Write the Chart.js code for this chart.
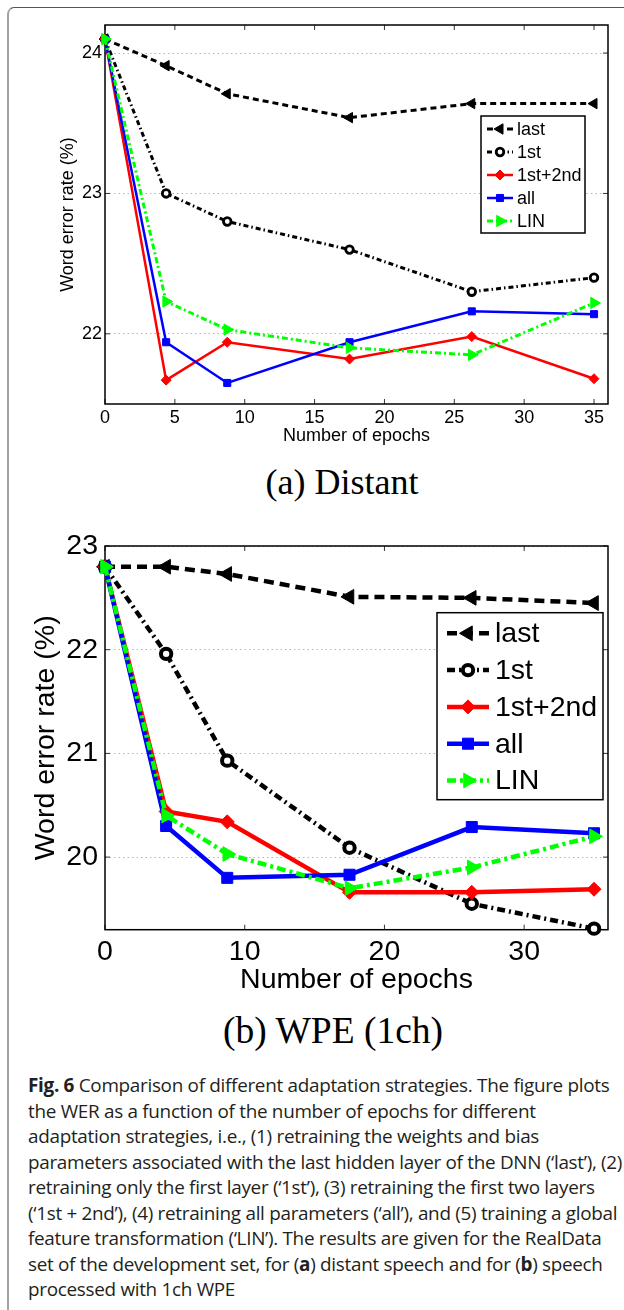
<!DOCTYPE html>
<html>
<head>
<meta charset="utf-8">
<script src="https://cdn.jsdelivr.net/npm/chart.js@4.4.0/dist/chart.umd.min.js"></script>
<style>
  html, body { margin: 0; padding: 0; background: #fff; }
  body { width: 624px; height: 1310px; position: relative; overflow: hidden; }
  .card { position: absolute; left: 7px; top: 7px; width: 1000px; height: 2000px;
          border-top: 1px solid #555; border-left: 2px solid #a3a3a3; border-top-left-radius: 7px; }
  canvas { position: absolute; left: 0; }
  #chartA { top: 0; }
  #chartB { top: 500px; }
  .sub { position: absolute; font-family: 'Liberation Serif', serif; font-size: 36px; color: #000;
         white-space: nowrap; transform: translate(-50%, -50%); }
  .caption { position: absolute; left: 28px; top: 1073px; font-family: 'Open Sans', sans-serif;
             font-size: 18.9px; line-height: 25.5px; color: #231f20; letter-spacing: -0.3px; }
  .caption div { white-space: nowrap; }
</style>
</head>
<body>
<div class="card"></div>
<canvas id="chartA" width="624" height="450"></canvas>
<div class="sub" style="left:342px; top:482px;">(a) Distant</div>
<canvas id="chartB" width="624" height="500"></canvas>
<div class="sub" style="left:333px; top:1030px; font-size:37.5px;">(b) WPE (1ch)</div>
<div class="caption">
  <div><b>Fig. 6</b> Comparison of different adaptation strategies. The figure plots</div>
  <div>the WER as a function of the number of epochs for different</div>
  <div>adaptation strategies, i.e., (1) retraining the weights and bias</div>
  <div>parameters associated with the last hidden layer of the DNN (‘last’), (2)</div>
  <div>retraining only the first layer (‘1st’), (3) retraining the first two layers</div>
  <div>(‘1st + 2nd’), (4) retraining all parameters (‘all’), and (5) training a global</div>
  <div>feature transformation (‘LIN’). The results are given for the RealData</div>
  <div>set of the development set, for (<b>a</b>) distant speech and for (<b>b</b>) speech</div>
  <div>processed with 1ch WPE</div>
</div>

<script>
// epochs on the x axis (same for both panels)
const epochs = [0, 4.375, 8.75, 17.5, 26.25, 35];
const seriesNames = ['last', '1st', '1st+2nd', 'all', 'LIN'];

// (a) Distant - word error rate (%)
const distLast   = [24.10, 23.91, 23.71, 23.54, 23.64, 23.64];
const dist1st    = [24.10, 23.00, 22.80, 22.60, 22.30, 22.40];
const dist1st2nd = [24.10, 21.67, 21.94, 21.82, 21.98, 21.68];
const distAll    = [24.10, 21.94, 21.65, 21.94, 22.16, 22.14];
const distLin    = [24.10, 22.23, 22.03, 21.90, 21.85, 22.22];

// (b) WPE (1ch) - word error rate (%)
const wpeLast   = [22.80, 22.80, 22.73, 22.51, 22.50, 22.45];
const wpe1st    = [22.80, 21.96, 20.93, 20.09, 19.55, 19.31];
const wpe1st2nd = [22.80, 20.44, 20.34, 19.66, 19.66, 19.69];
const wpeAll    = [22.80, 20.30, 19.80, 19.83, 20.29, 20.23];
const wpeLin    = [22.80, 20.40, 20.03, 19.70, 19.90, 20.20];

// tick labels
const distTicksX = [0, 5, 10, 15, 20, 25, 30, 35];
const distTicksY = [22, 23, 24];
const wpeTicksX = [0, 10, 20, 30];
const wpeTicksY = [20, 21, 22, 23];

// marker / line look per series
const colors = ['#000000', '#000000', '#ff0000', '#0000ff', '#00ff00'];
const pointStyles = ['triangle', 'circle', 'rectRot', 'rect', 'triangle'];
const pointRotations = [-90, 0, 0, 0, 90];
const pointFills = ['#000000', '#ffffff', '#ff0000', '#0000ff', '#00ff00'];

Chart.defaults.font.family = "'Liberation Sans', Arial, sans-serif";
Chart.defaults.color = '#000';

function drawMarker(ctx, style, x, y, r, rot, fill, stroke, bw) {
    ctx.save();
    ctx.translate(x, y);
    ctx.rotate(rot * Math.PI / 180);
    ctx.beginPath();
    if (style === 'circle') {
        ctx.arc(0, 0, r, 0, Math.PI * 2);
    } else if (style === 'triangle') {
        for (let k = 0; k < 3; k++) {
            const a = k * 2 * Math.PI / 3;
            if (k === 0) ctx.moveTo(Math.sin(a) * r, -Math.cos(a) * r);
            else ctx.lineTo(Math.sin(a) * r, -Math.cos(a) * r);
        }
        ctx.closePath();
    } else if (style === 'rectRot') {
        ctx.moveTo(0, -r); ctx.lineTo(r, 0); ctx.lineTo(0, r); ctx.lineTo(-r, 0);
        ctx.closePath();
    } else {
        const s = r * Math.SQRT1_2;
        ctx.rect(-s, -s, 2 * s, 2 * s);
    }
    ctx.fillStyle = fill;
    ctx.fill();
    ctx.setLineDash([]);
    ctx.lineWidth = bw;
    ctx.strokeStyle = stroke;
    ctx.stroke();
    ctx.restore();
}

// matlab style box with inward ticks
const framePlugin = {
    id: 'frame',
    beforeDatasetsDraw(chart, args, opts) {
        const { ctx, chartArea: a, scales: { x, y } } = chart;
        ctx.save();
        ctx.lineWidth = 1;
        ctx.strokeStyle = '#333';
        ctx.beginPath();
        x.ticks.forEach(t => {
            const px = x.getPixelForValue(t.value);
            ctx.moveTo(px, a.bottom); ctx.lineTo(px, a.bottom - opts.tick);
            ctx.moveTo(px, a.top); ctx.lineTo(px, a.top + opts.tick);
        });
        y.ticks.forEach(t => {
            const py = y.getPixelForValue(t.value);
            ctx.moveTo(a.left, py); ctx.lineTo(a.left + opts.tick, py);
            ctx.moveTo(a.right, py); ctx.lineTo(a.right - opts.tick, py);
        });
        ctx.stroke();
        ctx.strokeStyle = '#000';
        ctx.lineWidth = opts.width;
        ctx.strokeRect(a.left, a.top, a.right - a.left, a.bottom - a.top);
        ctx.restore();
    }
};

// legend box inside the plot, top right
const boxLegendPlugin = {
    id: 'boxLegend',
    afterDatasetsDraw(chart, args, opts) {
        const { ctx, chartArea: a } = chart;
        const bx = a.right - opts.right;
        const by = a.top + opts.top;
        ctx.save();
        ctx.fillStyle = '#fff';
        ctx.fillRect(bx, by, opts.w, opts.h);
        ctx.lineWidth = opts.border;
        ctx.strokeStyle = '#000';
        ctx.strokeRect(bx, by, opts.w, opts.h);
        ctx.font = opts.fontSize + "px 'Liberation Sans', Arial, sans-serif";
        ctx.textBaseline = 'middle';
        chart.data.datasets.forEach((ds, i) => {
            const ry = by + opts.firstRow + i * opts.rowH;
            const x0 = bx + opts.sample[0];
            const x1 = bx + opts.sample[1];
            ctx.save();
            ctx.strokeStyle = ds.borderColor;
            ctx.lineWidth = ds.borderWidth;
            ctx.setLineDash(ds.borderDash || []);
            ctx.beginPath();
            ctx.moveTo(x0, ry);
            ctx.lineTo(x1, ry);
            ctx.stroke();
            ctx.restore();
            drawMarker(ctx, ds.pointStyle, (x0 + x1) / 2, ry, ds.pointRadius, ds.pointRotation,
                ds.pointBackgroundColor, ds.pointBorderColor, ds.pointBorderWidth);
            ctx.fillStyle = '#000';
            ctx.fillText(ds.label, bx + opts.textX, ry + 1);
        });
        ctx.restore();
    }
};

function buildConfig(series, ticksX, ticksY, yMin, yMax, look) {
    const datasets = series.map((vals, i) => ({
        label: seriesNames[i],
        data: epochs.map((e, k) => ({ x: e, y: vals[k] })),
        borderColor: colors[i],
        borderWidth: look.lineWidth[i],
        borderDash: look.dash[i],
        pointStyle: pointStyles[i],
        pointRotation: pointRotations[i],
        pointRadius: look.radius[i],
        pointBackgroundColor: pointFills[i],
        pointBorderColor: colors[i],
        pointBorderWidth: look.pointBorder[i],
        tension: 0,
        clip: false,
        order: 5 - i
    }));

    return {
        type: 'line',
        data: { datasets: datasets },
        options: {
            responsive: false,
            animation: false,
            events: [],
            layout: { padding: look.padding },
            plugins: {
                legend: { display: false },
                tooltip: { enabled: false },
                frame: { width: 1.5, tick: 5 },
                boxLegend: look.legend
            },
            scales: {
                x: {
                    type: 'linear',
                    min: 0,
                    max: 36,
                    afterBuildTicks: axis => { axis.ticks = ticksX.map(v => ({ value: v })); },
                    afterFit: axis => { axis.height = look.xHeight; },
                    grid: { display: false, drawTicks: false },
                    border: { display: false },
                    ticks: { font: { size: look.fontSize }, padding: look.xTickPad, maxRotation: 0 },
                    title: {
                        display: true,
                        text: 'Number of epochs',
                        font: { size: look.fontSize },
                        padding: { top: 0, bottom: look.xTitlePad }
                    }
                },
                y: {
                    type: 'linear',
                    min: yMin,
                    max: yMax,
                    afterBuildTicks: axis => { axis.ticks = ticksY.map(v => ({ value: v })); },
                    afterFit: axis => { axis.width = 105; },
                    grid: { color: '#b5b5b5', lineWidth: 1, drawTicks: false },
                    border: { display: false, dash: [1.5, 3] },
                    ticks: { font: { size: look.fontSize }, padding: look.yTickPad },
                    title: {
                        display: true,
                        text: 'Word error rate (%)',
                        font: { size: look.fontSize },
                        padding: { top: look.yTitlePad, bottom: 0 }
                    }
                }
            }
        },
        plugins: [framePlugin, boxLegendPlugin]
    };
}

new Chart(document.getElementById('chartA'), buildConfig(
    [distLast, dist1st, dist1st2nd, distAll, distLin],
    distTicksX, distTicksY, 21.5, 24.2,
    {
        fontSize: 18,
        lineWidth: [3, 3, 2.5, 2.5, 3],
        dash: [[6, 4], [5, 3, 1.5, 3], [], [], [6, 3, 2, 3]],
        radius: [6, 3.8, 5, 5, 6.5],
        pointBorder: [1, 2.8, 1, 1, 1],
        padding: { left: 0, right: 16, top: 25, bottom: 0 },
        xHeight: 46,
        xTickPad: 3,
        xTitlePad: 3.5,
        yTickPad: 3,
        yTitlePad: 57,
        legend: { right: 127, top: 91, w: 104, h: 117, firstRow: 13, rowH: 23,
                  sample: [6, 32], textX: 36, fontSize: 18, border: 1.5 }
    }
));

new Chart(document.getElementById('chartB'), buildConfig(
    [wpeLast, wpe1st, wpe1st2nd, wpeAll, wpeLin],
    wpeTicksX, wpeTicksY, 19.3, 23,
    {
        fontSize: 28.5,
        lineWidth: [4.5, 4.5, 4.5, 4.5, 4.5],
        dash: [[10, 6], [8, 4, 2, 4], [], [], [9, 4, 3, 4]],
        radius: [8.5, 5.2, 7, 7.8, 8.5],
        pointBorder: [1, 4, 1, 1, 1],
        padding: { left: 0, right: 16, top: 46, bottom: 0 },
        xHeight: 70.3,
        xTickPad: 5,
        xTitlePad: 3,
        yTickPad: 7,
        yTitlePad: 29,
        legend: { right: 171, top: 66.7, w: 166, h: 187, firstRow: 20.6, rowH: 36.8,
                  sample: [10, 52], textX: 58, fontSize: 28.5, border: 1.5 }
    }
));
</script>
</body>
</html>
